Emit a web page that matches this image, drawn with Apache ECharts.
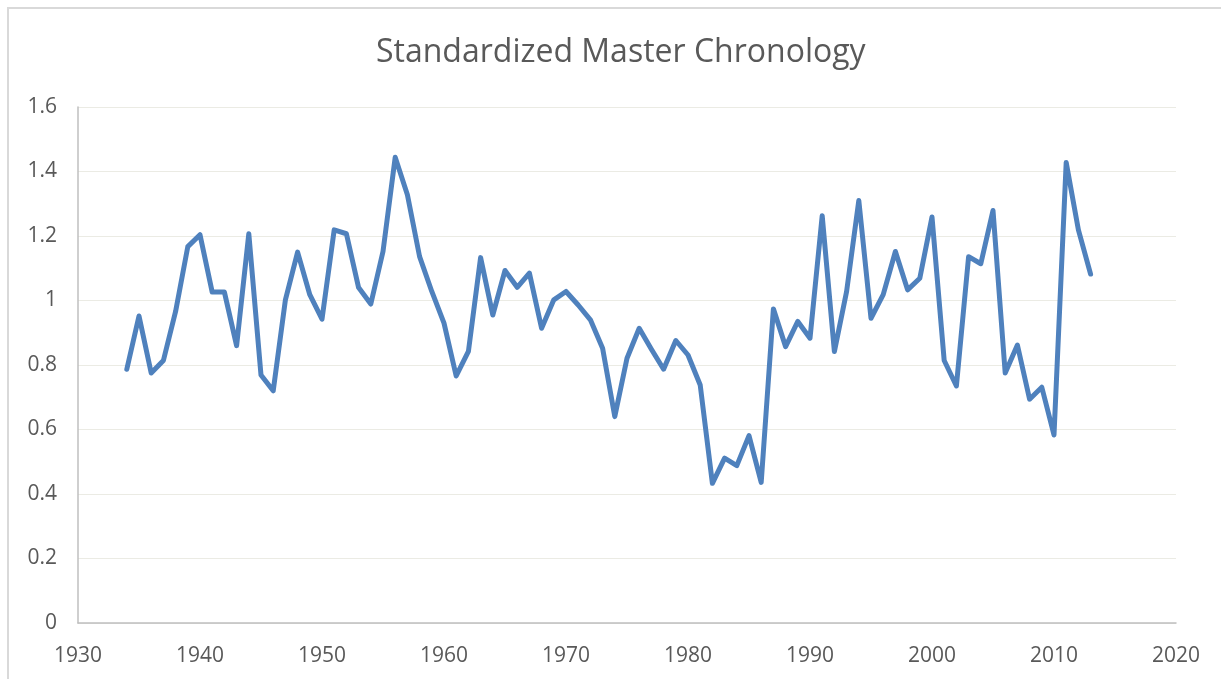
<!DOCTYPE html>
<html>
<head>
<meta charset="utf-8">
<script src="https://cdn.jsdelivr.net/npm/echarts@6/dist/echarts.min.js"></script>
<style>
html,body{margin:0;padding:0;background:#fff;}
#chart{width:1221px;height:679px;}
</style>
</head>
<body>
<div id="chart"></div>
<script>
var titleText = 'Standardized Master Chronology';
var years = [1934,1935,1936,1937,1938,1939,1940,1941,1942,1943,1944,1945,1946,1947,1948,1949,
  1950,1951,1952,1953,1954,1955,1956,1957,1958,1959,1960,1961,1962,1963,1964,1965,1966,1967,1968,1969,
  1970,1971,1972,1973,1974,1975,1976,1977,1978,1979,1980,1981,1982,1983,1984,1985,1986,1987,1988,1989,
  1990,1991,1992,1993,1994,1995,1996,1997,1998,1999,2000,2001,2002,2003,2004,2005,2006,2007,2008,2009,
  2010,2011,2012,2013];
var values = [0.787,0.952,0.775,0.814,0.966,1.167,1.204,1.026,1.026,0.860,1.207,0.769,0.720,1.002,1.150,1.018,
  0.942,1.219,1.207,1.040,0.989,1.152,1.444,1.328,1.136,1.028,0.930,0.766,0.842,1.133,0.955,1.093,1.041,1.085,0.914,1.002,
  1.028,0.986,0.940,0.852,0.640,0.821,0.914,0.849,0.787,0.876,0.831,0.738,0.433,0.511,0.488,0.581,0.436,0.974,0.857,0.935,
  0.883,1.263,0.842,1.028,1.310,0.945,1.018,1.152,1.033,1.069,1.259,0.814,0.735,1.136,1.114,1.279,0.775,0.862,0.694,0.731,
  0.583,1.428,1.219,1.082];
var xMin = 1930, xMax = 2020, xStep = 10;
var yMin = 0, yMax = 1.6, yStep = 0.2;

var seriesData = years.map(function (y, i) { return [y, values[i]]; });

var chart = echarts.init(document.getElementById('chart'), null, {renderer: 'canvas'});
chart.setOption({
  animation: false,
  backgroundColor: '#ffffff',
  title: {
    text: titleText,
    left: 371,
    top: 32,
    textStyle: {fontFamily: 'Open Sans', fontSize: 32, fontWeight: 'normal', color: '#595959'}
  },
  graphic: [{
    type: 'rect',
    shape: {x: 8, y: 8, width: 1240, height: 700},
    style: {fill: 'none', stroke: '#d9d9d9', lineWidth: 2},
    silent: true
  }],
  grid: {left: 78, right: 45, top: 107, bottom: 56, containLabel: false},
  xAxis: {
    type: 'value',
    min: xMin, max: xMax, interval: xStep,
    axisLine: {show: true, lineStyle: {color: '#bfbfbf', width: 1.5}},
    axisTick: {show: false},
    splitLine: {show: false},
    axisLabel: {color: '#595959', fontFamily: 'Open Sans', fontSize: 21, margin: 23,
      formatter: function (v) { return String(v); }}
  },
  yAxis: {
    type: 'value',
    min: yMin, max: yMax, interval: yStep,
    axisLine: {show: true, lineStyle: {color: '#bfbfbf', width: 1.5}},
    axisTick: {show: false},
    splitLine: {show: true, lineStyle: {color: '#ebebe4', width: 1.2}},
    axisLabel: {color: '#595959', fontFamily: 'Open Sans', fontSize: 21, margin: 21}
  },
  series: [{
    type: 'line',
    data: seriesData,
    showSymbol: false,
    symbol: 'none',
    lineStyle: {color: '#4f81bd', width: 5, join: 'round', cap: 'round'},
    itemStyle: {color: '#4f81bd'}
  }]
});
</script>
</body>
</html>
